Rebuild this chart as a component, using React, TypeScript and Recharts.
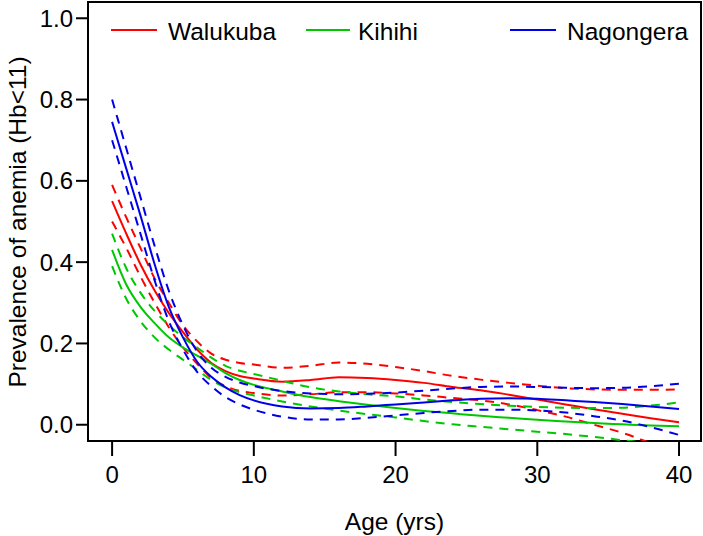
import { LineChart, Line, XAxis, YAxis, ReferenceArea, Label } from "recharts"

// age in years
const ages = [0, 1, 2, 3, 4, 5, 6, 7, 8, 9, 10, 12, 14, 16, 18, 20, 22, 24, 26, 28, 30, 32, 34, 36, 38, 40]

// smoothed prevalence (solid) with lower / upper bands (dashed)
const walukubaMean = [0.55, 0.47, 0.395, 0.33, 0.275, 0.228, 0.185, 0.152, 0.132, 0.12, 0.114, 0.106, 0.11, 0.117, 0.115, 0.11, 0.103, 0.093, 0.085, 0.074, 0.062, 0.05, 0.038, 0.027, 0.016, 0.006]
const walukubaUpper = [0.59, 0.51, 0.435, 0.36, 0.3, 0.245, 0.205, 0.175, 0.16, 0.152, 0.148, 0.14, 0.145, 0.153, 0.15, 0.142, 0.132, 0.12, 0.111, 0.103, 0.096, 0.09, 0.087, 0.086, 0.086, 0.087]
const walukubaLower = [0.5, 0.435, 0.365, 0.3, 0.24, 0.19, 0.15, 0.115, 0.095, 0.083, 0.078, 0.072, 0.075, 0.08, 0.08, 0.077, 0.072, 0.066, 0.06, 0.05, 0.036, 0.02, 0.0, -0.02, -0.045, -0.07]

const kihihiMean = [0.43, 0.345, 0.29, 0.25, 0.215, 0.19, 0.17, 0.15, 0.127, 0.11, 0.098, 0.082, 0.068, 0.058, 0.049, 0.041, 0.034, 0.028, 0.022, 0.017, 0.012, 0.008, 0.004, 0.001, -0.002, -0.004]
const kihihiUpper = [0.47, 0.385, 0.325, 0.28, 0.245, 0.215, 0.19, 0.165, 0.145, 0.133, 0.125, 0.108, 0.092, 0.082, 0.075, 0.07, 0.062, 0.056, 0.051, 0.047, 0.044, 0.042, 0.041, 0.042, 0.047, 0.055]
const kihihiLower = [0.39, 0.31, 0.255, 0.215, 0.185, 0.16, 0.135, 0.11, 0.092, 0.08, 0.072, 0.057, 0.045, 0.035, 0.026, 0.018, 0.009, 0.001, -0.005, -0.011, -0.017, -0.023, -0.03, -0.038, -0.046, -0.055]

const nagongeraMean = [0.745, 0.63, 0.515, 0.395, 0.29, 0.215, 0.155, 0.118, 0.092, 0.073, 0.06, 0.045, 0.04, 0.041, 0.045, 0.05, 0.055, 0.06, 0.064, 0.065, 0.064, 0.06, 0.056, 0.051, 0.045, 0.039]
const nagongeraUpper = [0.8, 0.68, 0.56, 0.44, 0.33, 0.245, 0.18, 0.14, 0.118, 0.104, 0.095, 0.083, 0.077, 0.075, 0.076, 0.079, 0.084, 0.089, 0.093, 0.094, 0.093, 0.091, 0.09, 0.091, 0.095, 0.101]
const nagongeraLower = [0.7, 0.585, 0.47, 0.355, 0.255, 0.185, 0.13, 0.095, 0.068, 0.05, 0.037, 0.02, 0.013, 0.013, 0.017, 0.023, 0.029, 0.034, 0.037, 0.037, 0.035, 0.03, 0.021, 0.01, -0.006, -0.025]

const sites = ["Walukuba", "Kihihi", "Nagongera"]
const xTicks = [0, 10, 20, 30, 40]
const yTicks = [0, 0.2, 0.4, 0.6, 0.8, 1.0]

const colors: Record<string, string> = {
  Walukuba: "#ff0000",
  Kihihi: "#00c800",
  Nagongera: "#0000e8",
}

const data = ages.map((age, i) => ({
  age,
  walukubaMean: walukubaMean[i],
  walukubaUpper: walukubaUpper[i],
  walukubaLower: walukubaLower[i],
  kihihiMean: kihihiMean[i],
  kihihiUpper: kihihiUpper[i],
  kihihiLower: kihihiLower[i],
  nagongeraMean: nagongeraMean[i],
  nagongeraUpper: nagongeraUpper[i],
  nagongeraLower: nagongeraLower[i],
}))

const FONT = "'Liberation Sans', Arial, sans-serif"
const X_DOMAIN: [number, number] = [-1.7, 41.55]
const Y_DOMAIN: [number, number] = [-0.04, 1.04]

// legend placement inside the plot box (line start, line end, text start) in px
const legendPos = [
  { x1: 111, x2: 157, tx: 168 },
  { x1: 306, x2: 350, tx: 358 },
  { x1: 510, x2: 556, tx: 567 },
]

function SiteLegend() {
  return (
    <svg width={703} height={60} style={{ position: "absolute", left: 0, top: 0, pointerEvents: "none" }}>
      {sites.map((s, i) => (
        <g key={s}>
          <line x1={legendPos[i].x1} x2={legendPos[i].x2} y1={30} y2={30} stroke={colors[s]} strokeWidth={2} />
          <text x={legendPos[i].tx} y={31} dominantBaseline="central" fontSize={24.5} fontFamily={FONT} fill="#000">
            {s}
          </text>
        </g>
      ))}
    </svg>
  )
}

function YTitle() {
  return (
    <text
      x={17}
      y={222}
      transform="rotate(-90 17 222)"
      textAnchor="middle"
      dominantBaseline="central"
      fontSize={24.5}
      fontFamily={FONT}
      fill="#000"
    >
      Prevalence of anemia (Hb&lt;11)
    </text>
  )
}

export default function App() {
  const keys = ["walukuba", "kihihi", "nagongera"]
  return (
    <div style={{ position: "absolute", left: 0, top: 0, width: 703, height: 536, background: "#fff" }}>
      <LineChart width={703} height={536} data={data} margin={{ top: 2, right: 2, bottom: 0, left: 0 }}>
        <XAxis
          dataKey="age"
          type="number"
          domain={X_DOMAIN}
          ticks={xTicks}
          allowDataOverflow
          height={95}
          axisLine={false}
          tickLine={{ stroke: "#000", strokeWidth: 2 }}
          tickSize={15}
          tickMargin={10}
          tick={{ fill: "#000", fontSize: 24, fontFamily: FONT }}
        >
          <Label value="Age (yrs)" position="insideBottom" offset={6} fill="#000" fontSize={24.5} fontFamily={FONT} />
        </XAxis>
        <YAxis
          type="number"
          domain={Y_DOMAIN}
          ticks={yTicks}
          allowDataOverflow
          width={88}
          axisLine={false}
          tickLine={{ stroke: "#000", strokeWidth: 2 }}
          tickSize={12}
          tickMargin={3}
          tickFormatter={(v: number) => v.toFixed(1)}
          tick={{ fill: "#000", fontSize: 24, fontFamily: FONT }}
        >
          <Label content={() => <YTitle />} />
        </YAxis>
        <ReferenceArea
          x1={X_DOMAIN[0]}
          x2={X_DOMAIN[1]}
          y1={Y_DOMAIN[0]}
          y2={Y_DOMAIN[1]}
          fill="none"
          fillOpacity={0}
          stroke="#000"
          strokeWidth={2}
          ifOverflow="visible"
        />
        {keys.map((k, i) => {
          const c = colors[sites[i]]
          return [
            <Line key={k + "U"} dataKey={k + "Upper"} type="monotone" stroke={c} strokeWidth={2} strokeDasharray="9 7" dot={false} isAnimationActive={false} legendType="none" />,
            <Line key={k + "L"} dataKey={k + "Lower"} type="monotone" stroke={c} strokeWidth={2} strokeDasharray="9 7" dot={false} isAnimationActive={false} legendType="none" />,
            <Line key={k + "M"} dataKey={k + "Mean"} type="monotone" stroke={c} strokeWidth={2} dot={false} isAnimationActive={false} name={sites[i]} />,
          ]
        })}
      </LineChart>
      <SiteLegend />
    </div>
  )
}
